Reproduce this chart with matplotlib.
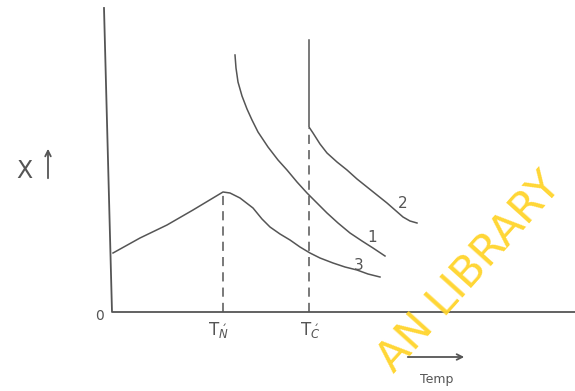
import numpy as np
import matplotlib.pyplot as plt

# data ----------------------------------------------------------------------
t_n = 111
t_c = 197

# curve 1 : paramagnetic
t1 = [123, 124, 126, 130, 135, 140, 146, 156, 166, 175, 185, 195, 205,
      215, 226, 238, 250, 261, 273]
x1 = [257, 244, 230, 216, 203, 192, 180, 165, 152, 142, 130, 119, 109,
      99, 89, 79, 71, 64, 56]

# curve 2 : ferromagnetic
t2 = [197, 197, 201, 208, 215, 225, 235, 245, 255, 265, 275, 283, 291,
      298, 305]
x2 = [272, 185, 179, 168, 159, 150, 142, 133, 125, 117, 109, 102, 95,
      91, 89]

# curve 3 : antiferromagnetic
t3 = [1, 28, 55, 81, 101, 111, 118, 128, 141, 150, 158, 168, 178, 188,
      198, 208, 221, 233, 245, 256, 268]
x3 = [59, 74, 87, 102, 114, 120, 119, 114, 104, 93, 85, 78, 72, 65,
      59, 54, 49, 45, 42, 38, 35]

curve_labels = ['1', '2', '3']
label_pos = [(260, 75), (291, 109), (247, 47)]

# plot ------------------------------------------------------------------------
ink = '#555555'
fig = plt.figure(figsize=(5.75, 3.91), dpi=100)
ax = fig.add_axes([0, 0, 1, 1])
ax.set_xlim(-112, 463)
ax.set_ylim(-79, 312)
ax.axis('off')

# axes drawn by hand
ax.plot([-8, 0, 463], [304, 0, 0], color=ink, lw=1.3)

for t, x in [(t1, x1), (t2, x2), (t3, x3)]:
    ax.plot(t, x, color=ink, lw=1.1, solid_joinstyle='round')

ax.plot([t_n, t_n], [0, 120], color=ink, lw=1.1, ls=(0, (6, 4)))
ax.plot([t_c, t_c], [0, 184], color=ink, lw=1.1, ls=(0, (6, 4)))

for lab, (tx, ty) in zip(curve_labels, label_pos):
    ax.text(tx, ty, lab, color=ink, fontsize=11, ha='center', va='center')

ax.text(-12, -4, '0', color=ink, fontsize=10, ha='center', va='center')
ax.text(t_n - 5, -18, r'$\mathrm{T}_{\acute{N}}$', color=ink, fontsize=12,
        ha='center', va='center')
ax.text(t_c + 1, -18, r'$\mathrm{T}_{\acute{C}}$', color=ink, fontsize=12,
        ha='center', va='center')

ax.text(-88, 141, 'X', color=ink, fontsize=17, ha='center', va='center')
ax.annotate('', xy=(-64, 166), xytext=(-64, 131),
            arrowprops=dict(arrowstyle='->', color=ink, lw=1.3))

ax.annotate('', xy=(355, -45), xytext=(293, -45),
            arrowprops=dict(arrowstyle='->', color=ink, lw=1.3))
ax.text(325, -68, 'Temp', color=ink, fontsize=9, ha='center', va='center')

# watermark
ax.text(357, 40, 'AN LIBRARY', color='#FFD42A', fontsize=31,
        rotation=48, ha='center', va='center', alpha=0.95)

plt.savefig('out.png', dpi=100)
